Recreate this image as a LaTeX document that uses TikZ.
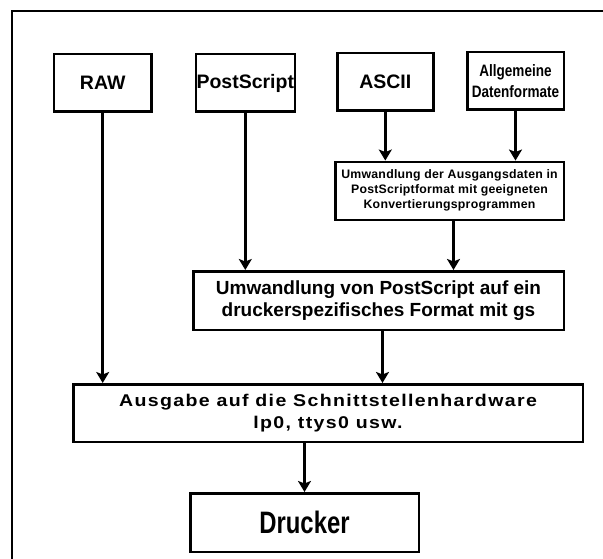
\documentclass[tikz,border=0pt]{standalone}
\usepackage{fontspec}
\setmainfont{Liberation Sans}
\newfontfamily\narrowfont{Liberation Sans}[FakeStretch=0.82]
\newfontfamily\druckerfont{Liberation Sans}[FakeStretch=0.77]
\newfontfamily\convfont{Liberation Sans}[LetterSpace=2]
\newfontfamily\widefont{Liberation Sans}[FakeStretch=1.15,LetterSpace=8]
\usetikzlibrary{arrows.meta}
\begin{document}
\begin{tikzpicture}[x=1pt,y=-1pt,
  box/.style={draw, line width=2.5pt, inner sep=0pt, align=center},
  topbox/.style={box, minimum width=97.5pt, minimum height=57.5pt},
  arr/.style={line width=3pt, -{Stealth[length=11pt,width=13pt,inset=2.5pt]}}]
\useasboundingbox (0,0) rectangle (603,559);
\draw[line width=2pt] (12,559) -- (12,11) -- (603,11);
\node[topbox, font=\bfseries\fontsize{19.5}{22}\selectfont] (raw) at (102.7,82.6) {RAW};
\node[topbox, minimum width=99pt, font=\bfseries\fontsize{19.5}{22}\selectfont] (ps) at (245.3,83) {PostScript};
\node[topbox, minimum width=96pt, font=\bfseries\fontsize{19.5}{22}\selectfont] (ascii) at (385.3,81.7) {ASCII};
\node[topbox, minimum width=96.5pt, font=\narrowfont\bfseries\fontsize{16.5}{21.5}\selectfont] (allg) at (515.5,81) {Allgemeine\\Datenformate};
\node[box, minimum width=228.5pt, minimum height=58pt, font=\convfont\bfseries\fontsize{12.3}{15}\selectfont] (conv) at (449.5,190.8) {Umwandlung der Ausgangsdaten in\\PostScriptformat mit geeigneten\\Konvertierungsprogrammen};
\node[box, minimum width=370.5pt, minimum height=58.5pt, font=\bfseries\fontsize{19}{22.5}\selectfont] (psb) at (378.5,300.5) {Umwandlung von PostScript auf ein\\druckerspezifisches Format mit gs};
\node[box, minimum width=509.5pt, minimum height=57.5pt, font=\widefont\bfseries\fontsize{17}{22.5}\selectfont] (aus) at (328,413) {Ausgabe auf die Schnittstellenhardware\\lp0, ttys0 usw.};
\node[box, minimum width=228.5pt, minimum height=58.5pt, font=\druckerfont\bfseries\fontsize{31}{34}\selectfont] (dru) at (304.5,522.5) {Drucker};
\draw[arr] (raw.south) -- (raw.south |- aus.north);
\draw[arr] (ps.south) -- (ps.south |- psb.north);
\draw[arr] (ascii.south) -- (ascii.south |- conv.north);
\draw[arr] (allg.south) -- (allg.south |- conv.north);
\draw[arr] ([xshift=4pt]conv.south) -- ([xshift=4pt]conv.south |- psb.north);
\draw[arr] ([xshift=4pt]psb.south) -- ([xshift=4pt]psb.south |- aus.north);
\draw[arr] (dru.north |- aus.south) -- (dru.north);
\end{tikzpicture}
\end{document}
